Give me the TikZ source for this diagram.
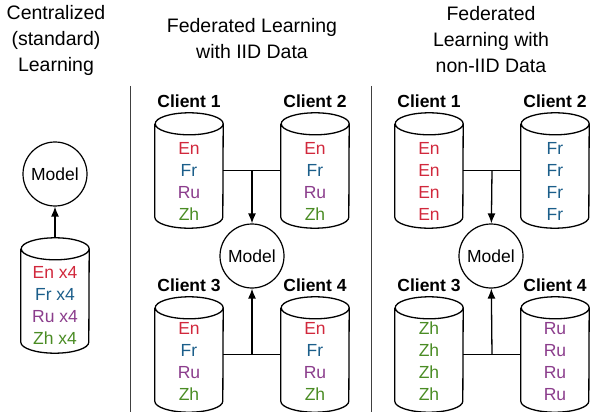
\documentclass[tikz,border=0pt]{standalone}
\usepackage{fontspec}
\setmainfont{Liberation Sans}
\usepackage{tikz}
\usetikzlibrary{arrows.meta, positioning}

\definecolor{enred}{HTML}{D1283C}
\definecolor{frblue}{HTML}{1B5E8A}
\definecolor{rupurple}{HTML}{8B3D8C}
\definecolor{zhgreen}{HTML}{4A8C24}

\begin{document}
\begin{tikzpicture}[x=1pt, y=-1pt, every node/.style={font=\fontsize{17.5}{22}\selectfont},
    dbline/.style={line width=1.3pt},
    db/.style={minimum width=68pt, minimum height=115pt, inner sep=0pt,
        append after command={\pgfextra{\draw[dbline]
            ([yshift=-11pt]\tikzlastnode.north west) -- ([yshift=11pt]\tikzlastnode.south west)
            arc[start angle=180, end angle=360, x radius=34pt, y radius=11pt]
            -- ([yshift=-11pt]\tikzlastnode.north east)
            arc[start angle=0, end angle=360, x radius=34pt, y radius=11pt];}}},
    dbtext/.style={align=center, inner sep=0pt},
    model/.style={circle, draw, line width=1.2pt, minimum size=64pt, inner sep=0pt},
    client/.style={font=\bfseries\fontsize{17.5}{20}\selectfont},
    title/.style={align=center, font=\fontsize{19.5}{26}\selectfont},
    link/.style={line width=1.3pt},
    arr/.style={link, -{Latex[length=10pt, width=8pt]}}]
    \useasboundingbox (0,0) rectangle (590,412);

    % titles
    \node[title] (t0) at (56,40) {Centralized\\(standard)\\Learning};
    \node[title] (t1) at (252,39) {Federated Learning\\with IID Data};
    \node[title] (t2) at (491,40) {Federated\\Learning with\\non-IID Data};
    \draw[line width=1pt, black!75] (130,86) -- (130,412);
    \draw[line width=1pt, black!75] (371,86) -- (371,412);

    % centralized
    \node[model] (m0) at (55,174) {Model};
    \node[db] (d0) at (55,295.5) {};
    \node[dbtext] (d0t) at (55,305) {\textcolor{enred}{En x4}\\\textcolor{frblue}{Fr x4}\\
        \textcolor{rupurple}{Ru x4}\\\textcolor{zhgreen}{Zh x4}};
    \draw[arr] (d0) -- (m0);

    % federated, iid
    \node[model] (m1) at (252,256) {Model};
    \node[db] (a1) at (189,170.5) {};
    \node[db] (a2) at (315,170.5) {};
    \node[db] (a3) at (189,354.5) {};
    \node[db] (a4) at (315,354.5) {};
    \node[dbtext] (a1t) at (189,181) {\textcolor{enred}{En}\\\textcolor{frblue}{Fr}\\
        \textcolor{rupurple}{Ru}\\\textcolor{zhgreen}{Zh}};
    \node[dbtext] (a2t) at (315,181) {\textcolor{enred}{En}\\\textcolor{frblue}{Fr}\\
        \textcolor{rupurple}{Ru}\\\textcolor{zhgreen}{Zh}};
    \node[dbtext] (a3t) at (189,361.5) {\textcolor{enred}{En}\\\textcolor{frblue}{Fr}\\
        \textcolor{rupurple}{Ru}\\\textcolor{zhgreen}{Zh}};
    \node[dbtext] (a4t) at (315,361.5) {\textcolor{enred}{En}\\\textcolor{frblue}{Fr}\\
        \textcolor{rupurple}{Ru}\\\textcolor{zhgreen}{Zh}};
    \node[client, above=2pt of a1] (a1lbl) {Client 1};
    \node[client, above=2pt of a2] (a2lbl) {Client 2};
    \node[client, above=2pt of a3] (a3lbl) {Client 3};
    \node[client, above=2pt of a4] (a4lbl) {Client 4};
    \draw[link] (a1) -- coordinate (a12) (a2);
    \draw[link] (a3) -- coordinate (a34) (a4);
    \draw[arr] (a12) -- (m1);
    \draw[arr] (a34) -- (m1);

    % federated, non-iid
    \node[model] (m2) at (491,256) {Model};
    \node[db] (b1) at (429,170.5) {};
    \node[db] (b2) at (555,170.5) {};
    \node[db] (b3) at (429,354.5) {};
    \node[db] (b4) at (555,354.5) {};
    \node[dbtext] (b1t) at (429,181) {\textcolor{enred}{En}\\\textcolor{enred}{En}\\
        \textcolor{enred}{En}\\\textcolor{enred}{En}};
    \node[dbtext] (b2t) at (555,181) {\textcolor{frblue}{Fr}\\\textcolor{frblue}{Fr}\\
        \textcolor{frblue}{Fr}\\\textcolor{frblue}{Fr}};
    \node[dbtext] (b3t) at (429,361.5) {\textcolor{zhgreen}{Zh}\\\textcolor{zhgreen}{Zh}\\
        \textcolor{zhgreen}{Zh}\\\textcolor{zhgreen}{Zh}};
    \node[dbtext] (b4t) at (555,361.5) {\textcolor{rupurple}{Ru}\\\textcolor{rupurple}{Ru}\\
        \textcolor{rupurple}{Ru}\\\textcolor{rupurple}{Ru}};
    \node[client, above=2pt of b1] (b1lbl) {Client 1};
    \node[client, above=2pt of b2] (b2lbl) {Client 2};
    \node[client, above=2pt of b3] (b3lbl) {Client 3};
    \node[client, above=2pt of b4] (b4lbl) {Client 4};
    \draw[link] (b1) -- coordinate (b12) (b2);
    \draw[link] (b3) -- coordinate (b34) (b4);
    \draw[arr] (b12) -- (m2);
    \draw[arr] (b34) -- (m2);
\end{tikzpicture}
\end{document}
